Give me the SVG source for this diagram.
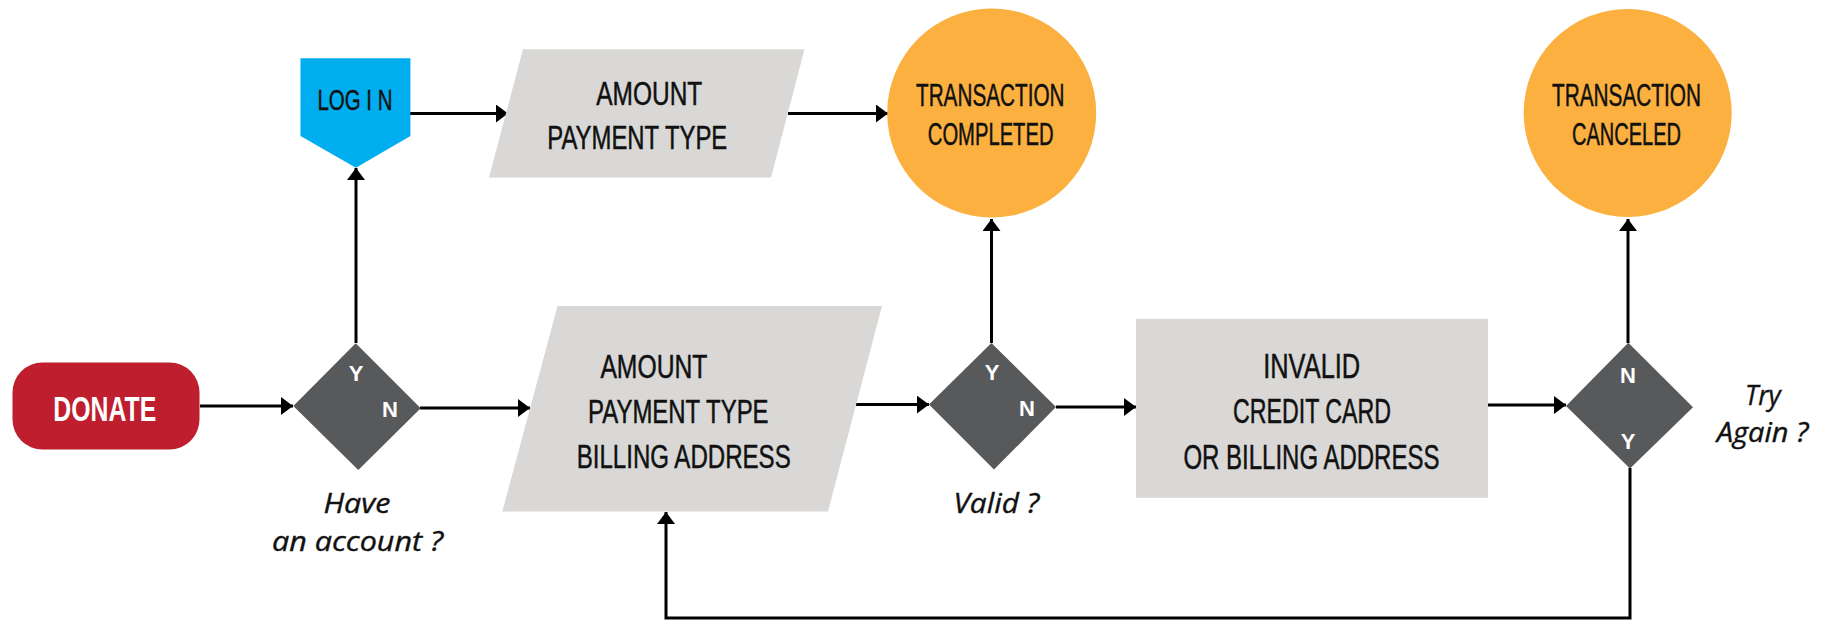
<svg xmlns="http://www.w3.org/2000/svg" width="1827" height="621" viewBox="0 0 1827 621">
<defs>
<marker id="arr" viewBox="0 0 12 18" refX="12" refY="9" markerWidth="12" markerHeight="18" markerUnits="userSpaceOnUse" orient="auto">
<path d="M0,0 L12,9 L0,18 z" fill="#000"/>
</marker>
<style>
.lbl{font-family:"Liberation Sans",Arial,sans-serif;fill:#111;stroke:#111;stroke-width:0.5}
.it{font-family:"Open Sans","Liberation Sans",sans-serif;font-style:italic;fill:#111;stroke:#111;stroke-width:0.4;font-size:28px}
.yn{font-family:"Liberation Sans",Arial,sans-serif;font-weight:bold;fill:#fff;font-size:22px;text-anchor:middle}
.con{fill:none;stroke:#000;stroke-width:3}
.gray{fill:#D9D8D6}
.dia{fill:#58595B}
.orange{fill:#FBB040}
</style>
</defs>
<rect width="1827" height="621" fill="#fff"/>
<g id="connectors">
<path class="con" d="M200,406 L293,406" marker-end="url(#arr)"/>
<path class="con" d="M356,343 L356,168" marker-end="url(#arr)"/>
<path class="con" d="M410,113.5 L508,113.5" marker-end="url(#arr)"/>
<path class="con" d="M420,408 L530,408" marker-end="url(#arr)"/>
<path class="con" d="M788,113.5 L888,113.5" marker-end="url(#arr)"/>
<path class="con" d="M856,404.6 L929,404.6" marker-end="url(#arr)"/>
<path class="con" d="M991.5,343 L991.5,219" marker-end="url(#arr)"/>
<path class="con" d="M1056,407 L1136,407" marker-end="url(#arr)"/>
<path class="con" d="M1488,405 L1566,405" marker-end="url(#arr)"/>
<path class="con" d="M1628,343 L1628,219" marker-end="url(#arr)"/>
<path class="con" d="M1630,468 L1630,618 L666,618 L666,512" marker-end="url(#arr)"/>
</g>
<g id="donate">
<rect x="12.5" y="362.5" width="187" height="87" rx="30" ry="30" fill="#BE1E2D"/>
<text x="53.3" y="420.7" font-family="Liberation Sans, Arial, sans-serif" font-weight="bold" font-size="35" fill="#fff" textLength="103" lengthAdjust="spacingAndGlyphs">DONATE</text>
</g>
<g id="decision-account">
<polygon class="dia" points="355.7,343.3 420.7,408.3 358.3,470 293.3,406"/>
<text class="yn" x="356" y="380.7">Y</text>
<text class="yn" x="390" y="417.3">N</text>
<text class="it" x="323.4" y="513" textLength="67" lengthAdjust="spacingAndGlyphs">Have</text>
<text class="it" x="272" y="551" textLength="171" lengthAdjust="spacingAndGlyphs">an account ?</text>
</g>
<g id="login">
<polygon points="300.5,58.3 410.4,58.3 410.4,136 355.9,167.7 300.5,136" fill="#00AEEF"/>
<text class="lbl" x="317.5" y="110" font-size="30" textLength="75" lengthAdjust="spacingAndGlyphs">LOG I N</text>
</g>
<g id="input-short">
<polygon class="gray" points="523,49.3 804.5,49.3 771,177.5 489,177.5"/>
<text class="lbl" x="596.3" y="104.6" font-size="34" textLength="106" lengthAdjust="spacingAndGlyphs">AMOUNT</text>
<text class="lbl" x="547.3" y="149" font-size="34" textLength="180" lengthAdjust="spacingAndGlyphs">PAYMENT TYPE</text>
</g>
<g id="completed">
<circle class="orange" cx="991.7" cy="113" r="104.5"/>
<text class="lbl" x="916" y="106" font-size="31" textLength="148.5" lengthAdjust="spacingAndGlyphs">TRANSACTION</text>
<text class="lbl" x="927.8" y="144.6" font-size="31" textLength="125.7" lengthAdjust="spacingAndGlyphs">COMPLETED</text>
</g>
<g id="input-full">
<polygon class="gray" points="557.5,306 882,306 828,511.4 502.4,511.4"/>
<text class="lbl" x="600.4" y="377.5" font-size="34" textLength="107" lengthAdjust="spacingAndGlyphs">AMOUNT</text>
<text class="lbl" x="588" y="422.5" font-size="34" textLength="180.6" lengthAdjust="spacingAndGlyphs">PAYMENT TYPE</text>
<text class="lbl" x="576.7" y="467.5" font-size="34" textLength="214" lengthAdjust="spacingAndGlyphs">BILLING ADDRESS</text>
</g>
<g id="decision-valid">
<polygon class="dia" points="991.4,342.9 1056,407 994,469.6 929,404.6"/>
<text class="yn" x="992" y="380">Y</text>
<text class="yn" x="1027" y="416">N</text>
<text class="it" x="953.5" y="512.5" textLength="85.7" lengthAdjust="spacingAndGlyphs">Valid ?</text>
</g>
<g id="invalid">
<rect class="gray" x="1136" y="318.8" width="352" height="179"/>
<text class="lbl" x="1263.2" y="378" font-size="35" textLength="97" lengthAdjust="spacingAndGlyphs">INVALID</text>
<text class="lbl" x="1233" y="423" font-size="35" textLength="158" lengthAdjust="spacingAndGlyphs">CREDIT CARD</text>
<text class="lbl" x="1183.4" y="468.5" font-size="35" textLength="256" lengthAdjust="spacingAndGlyphs">OR BILLING ADDRESS</text>
</g>
<g id="decision-retry">
<polygon class="dia" points="1628.3,342.7 1693,407.3 1630,468.5 1566,406"/>
<text class="yn" x="1628" y="383">N</text>
<text class="yn" x="1628" y="449">Y</text>
<text class="it" x="1745" y="405" textLength="35.7" lengthAdjust="spacingAndGlyphs">Try</text>
<text class="it" x="1716.7" y="441.7" textLength="91.7" lengthAdjust="spacingAndGlyphs">Again ?</text>
</g>
<g id="canceled">
<circle class="orange" cx="1627.7" cy="112.9" r="104"/>
<text class="lbl" x="1552" y="106" font-size="31" textLength="149" lengthAdjust="spacingAndGlyphs">TRANSACTION</text>
<text class="lbl" x="1572" y="144.6" font-size="31" textLength="109" lengthAdjust="spacingAndGlyphs">CANCELED</text>
</g>
</svg>
